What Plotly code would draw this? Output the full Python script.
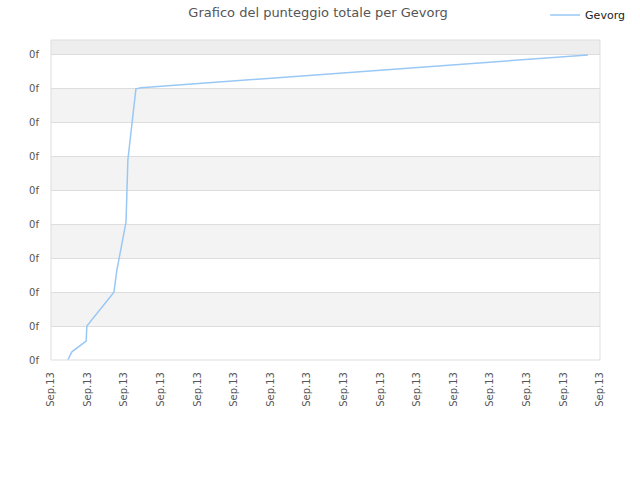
import plotly.graph_objects as go

# Data (x in tick units, y in tick units)
x_vals = [0.46, 0.57, 0.96, 0.98, 1.72, 1.80, 2.05, 2.10, 2.32, 2.46, 14.67]
y_vals = [0.0, 0.24, 0.56, 1.0, 2.0, 2.65, 4.07, 5.9, 8.0, 8.03, 9.0]
x_ticks = list(range(16))
x_labels = ["Sep.13"] * 16
y_ticks = list(range(10))
y_labels = ["0f"] * 10
series_name = "Gevorg"

fig = go.Figure()
fig.add_trace(go.Scatter(x=x_vals, y=y_vals, mode="lines", name=series_name,
                         line=dict(color="#99c8f5", width=1.5)))

shapes = []
ytop = 9.44
for i in range(len(y_ticks) - 1):
    if i % 2 == 1:
        shapes.append(dict(type="rect", xref="paper", yref="y", x0=0, x1=1,
                           y0=y_ticks[i], y1=y_ticks[i + 1], fillcolor="#f3f3f3",
                           line=dict(width=0), layer="below"))
shapes.append(dict(type="rect", xref="paper", yref="y", x0=0, x1=1,
                   y0=y_ticks[-1], y1=ytop, fillcolor="#eeeeee",
                   line=dict(width=0), layer="below"))
shapes.append(dict(type="rect", xref="paper", yref="paper", x0=0, x1=1, y0=0, y1=1,
                   line=dict(color="#dddddd", width=1), layer="above"))

fig.update_layout(
    width=640, height=480,
    margin=dict(l=51, r=40, t=40, b=120, autoexpand=False),
    paper_bgcolor="white", plot_bgcolor="white",
    font=dict(family="DejaVu Sans", size=10, color="#555555"),
    title=dict(text="Grafico del punteggio totale per Gevorg", x=0.497, xanchor="center",
               xref="container", y=0.974, yref="container", yanchor="middle",
               font=dict(size=13, color="#555555")),
    showlegend=True,
    legend=dict(x=0.90, xanchor="left", y=1.078, yanchor="middle", bgcolor="rgba(0,0,0,0)",
                font=dict(size=11, color="#222222")),
    xaxis=dict(range=[0, 15], tickvals=x_ticks, ticktext=x_labels, tickangle=-90,
               showgrid=False, zeroline=False, showline=False, ticks="", automargin=False,
               ticklabelstandoff=9, tickfont=dict(size=10, color="#555555")),
    yaxis=dict(range=[0, ytop], tickvals=y_ticks, ticktext=y_labels, automargin=False,
               showgrid=True, gridcolor="#dddddd", gridwidth=1, zeroline=False,
               ticklabelstandoff=11,
               showline=False, ticks="", tickfont=dict(size=10, color="#555555")),
    shapes=shapes,
)
fig.write_html("out.html", config={"displayModeBar": False},
               post_script="document.body.style.margin='0';")
